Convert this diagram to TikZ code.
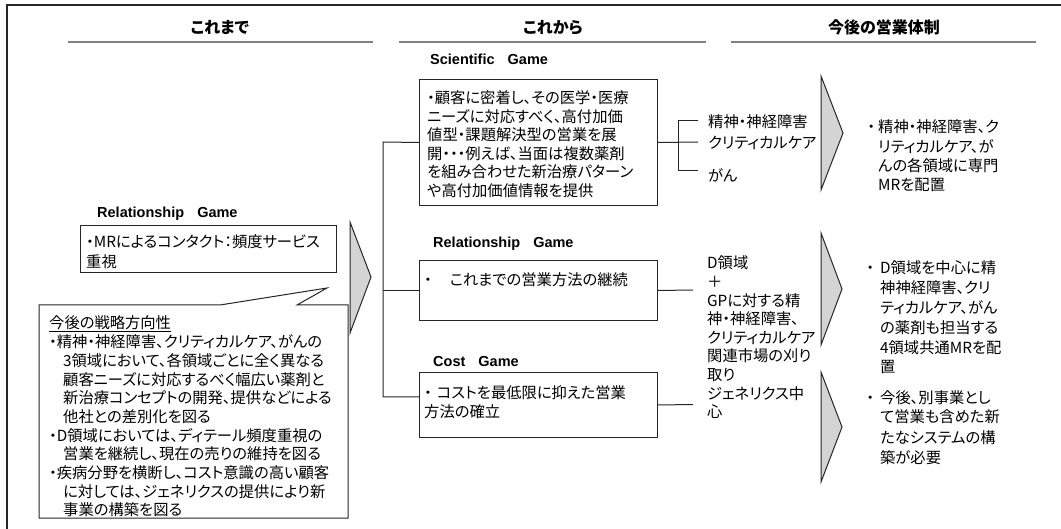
\documentclass[tikz,border=0pt]{standalone}
\usepackage{fontspec}
\setmainfont{Liberation Sans}
\newfontfamily\jpfont[RawFeature=+palt]{Noto Sans CJK JP}
\usetikzlibrary{calc}
\newcommand\jlines[3]{\parbox[t]{#1}{\fontsize{15.3}{#2}\selectfont\jpfont\raggedright #3}}
\newcommand\hangdot[1]{\leavevmode\llap{・\hspace{#1}}}
\tikzset{
  frameline/.style={line width=1.2pt, draw=black!85},
  hdr/.style={font=\fontsize{16}{18}\selectfont\jpfont\bfseries, inner sep=0pt, anchor=base},
  uline/.style={line width=2.5pt, draw=black!50},
  game/.style={font=\fontsize{14.5}{16}\selectfont\bfseries, inner sep=0pt, anchor=base west},
  box/.style={draw=black!85, line width=1pt, inner sep=0pt, anchor=north west},
  txt/.style={inner sep=0pt, anchor=base west},
  conn/.style={draw=black!85, line width=1pt},
  chev/.style={draw=black!85, line width=1pt, fill=black!17, line join=miter},
}
\begin{document}
\begin{tikzpicture}[x=1pt,y=-1pt]
\useasboundingbox (0,0) rectangle (1061,529);
% frame
\draw[frameline] (7,529) -- (7,5) -- (1061,5);
% headers
\node[hdr] (h1) at (220,34) {これまで};
\node[hdr] (h2) at (553,34) {これから};
\node[hdr] (h3) at (884,34) {今後の営業体制};
\draw[uline] (68,42) -- (373,42);
\draw[uline] (399,42) -- (706,42);
\draw[uline] (731,42) -- (1036,42);
% game labels
\node[game] (lg1) at (97,218) {Relationship\hspace{0.9em}Game};
\node[game] (lg2) at (430,65) {Scientific\hspace{0.9em}Game};
\node[game] (lg3) at (433,248) {Relationship\hspace{0.9em}Game};
\node[game] (lg4) at (433,367) {Cost\hspace{0.9em}Game};
% boxes
\node[box, minimum width=256pt, minimum height=47pt] (mr) at (80,225) {};
\node[box, minimum width=238pt, minimum height=126pt] (b1) at (419,79) {};
\node[box, minimum width=238pt, minimum height=60pt] (b2) at (419,260) {};
\node[box, minimum width=238pt, minimum height=65pt] (b3) at (419,372) {};
% callout
\draw[conn, fill=white] (39,305) -- (220,305) -- (327,288) -- (297,305) -- (348,305) -- (348,518) -- (39,518) -- cycle;
% trunk
\coordinate (t1) at (383,142);
\coordinate (t3) at (383,397);
\draw[conn] (b1.west) -- (t1) -- (t3) -- (t3 -| b3.west);
\draw[conn] (t1 |- b2.west) -- (b2.west);
% right connectors
\coordinate (e1) at (698,142);
\coordinate (k1) at (678,121);
\coordinate (k3) at (678,171);
\coordinate (k1e) at (698,121);
\coordinate (k3e) at (698,171);
\coordinate (e2) at (693,290);
\coordinate (e3) at (693,404.5);
\draw[conn] (b1.east) -- (e1);
\draw[conn] (k1e) -- (k1) -- (k3) -- (k3e);
\draw[conn] (b2.east) -- (e2);
\draw[conn] (b3.east) -- (e3);
% chevrons
\draw[chev] (350,222) -- (371,277) -- (350,333) -- cycle;
\draw[chev] (821,76) -- (843,133) -- (821,190) -- cycle;
\draw[chev] (821,233) -- (842,289) -- (821,345) -- cycle;
\draw[chev] (821,372) -- (842,427) -- (821,482) -- cycle;
% texts
\node[txt] (mrt) at (86,248) {\jlines{245pt}{20}{・MRによるコンタクト：頻度サービス\\重視}};
\node[txt] (b1t) at (427,104) {\jlines{228pt}{18.5}{・顧客に密着し、その医学・医療\\ニーズに対応すべく、高付加価\\値型・課題解決型の営業を展\\開・・・例えば、当面は複数薬剤\\を組み合わせた新治療パターン\\や高付加価値情報を提供}};
\node[txt] (b2t) at (424,286) {\jlines{230pt}{19}{・\hspace{18pt}これまでの営業方法の継続}};
\node[txt] (b3t) at (424,399) {\jlines{230pt}{19}{・\hspace{5pt}コストを最低限に抑えた営業\\方法の確立}};
\node[txt] (s1) at (708,128) {\jlines{110pt}{19}{精神・神経障害}};
\node[txt] (s2) at (708,149) {\jlines{110pt}{19}{クリティカルケア}};
\node[txt] (s3) at (708,182) {\jlines{110pt}{19}{がん}};
\node[txt] (mid) at (707,269) {\jlines{112pt}{18.6}{D領域\\＋\\GPに対する精\\神・神経障害、\\クリティカルケア\\関連市場の刈り\\取り\\ジェネリクス中\\心}};
\node[txt] (r1) at (878,133) {\jlines{160pt}{19.3}{\hangdot{3pt}精神・神経障害、ク\\リティカルケア、が\\んの各領域に専門\\MRを配置}};
\node[txt] (r2) at (880,274) {\jlines{160pt}{19.8}{\hangdot{6pt}D領域を中心に精\\神神経障害、クリ\\ティカルケア、がん\\の薬剤も担当する\\4領域共通MRを配\\置}};
\node[txt] (r3) at (880,403) {\jlines{160pt}{20}{\hangdot{6pt}今後、別事業とし\\て営業も含めた新\\たなシステムの構\\築が必要}};
\node[txt] (ct) at (49,329) {\jlines{298pt}{18.7}{\underline{今後の戦略方向性}\\・精神・神経障害、クリティカルケア、がんの\\\hspace*{14pt}3領域において、各領域ごとに全く異なる\\\hspace*{14pt}顧客ニーズに対応するべく幅広い薬剤と\\\hspace*{14pt}新治療コンセプトの開発、提供などによる\\\hspace*{14pt}他社との差別化を図る\\・D領域においては、ディテール頻度重視の\\\hspace*{14pt}営業を継続し、現在の売りの維持を図る\\・疾病分野を横断し、コスト意識の高い顧客\\\hspace*{14pt}に対しては、ジェネリクスの提供により新\\\hspace*{14pt}事業の構築を図る}};
\end{tikzpicture}
\end{document}
